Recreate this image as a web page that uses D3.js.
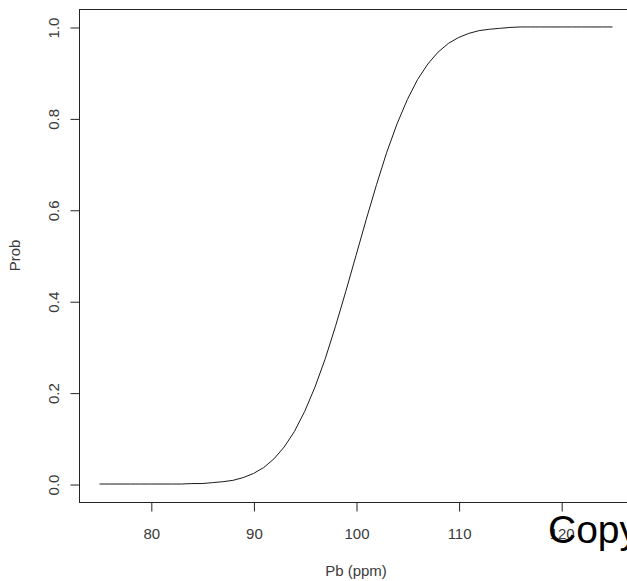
<!DOCTYPE html>
<html>
<head>
<meta charset="utf-8">
<script src="https://cdn.jsdelivr.net/npm/d3@7"></script>
<style>
  html, body { margin: 0; padding: 0; background: #fff; overflow: hidden; }
  svg { display: block; font-family: "Liberation Sans", Arial, sans-serif; }
</style>
</head>
<body>
<svg id="chart" width="627" height="581"></svg>
<script>
// Lead concentration (ppm) and cumulative probability
const pb = [75, 76, 77, 78, 79, 80, 81, 82, 83, 84, 85, 86, 87, 88, 89, 90,
            91, 92, 93, 94, 95, 96, 97, 98, 99, 100, 101, 102, 103, 104, 105,
            106, 107, 108, 109, 110, 111, 112, 113, 114, 115, 116, 117, 118,
            119, 120, 121, 122, 123, 124, 125];
const prob = [0.000, 0.000, 0.000, 0.000, 0.000, 0.000, 0.000, 0.000, 0.000, 0.001, 0.001,
              0.003, 0.005, 0.008, 0.014, 0.023, 0.036, 0.055, 0.081, 0.115, 0.159,
              0.212, 0.274, 0.345, 0.421, 0.500, 0.579, 0.655, 0.726, 0.788, 0.841,
              0.885, 0.919, 0.945, 0.964, 0.977, 0.986, 0.992, 0.995, 0.997, 0.999,
              1.000, 1.000, 1.000, 1.000, 1.000, 1.000, 1.000, 1.000, 1.000, 1.000];
const xTicks = [80, 90, 100, 110, 120];
const yTicks = [0.0, 0.2, 0.4, 0.6, 0.8, 1.0];

const svg = d3.select("#chart");
const plotL = 79, plotR = 633, plotT = 8.7, plotB = 502.3;

// Data range padded by 4% on each side
const x = d3.scaleLinear().domain([73, 127]).range([plotL, plotR]);
const y = d3.scaleLinear().domain([-0.04, 1.04]).range([plotB, plotT]);

const ink = "#222";
const labelInk = "#3a3a3a";
const fs = 15;

// Plot frame
svg.append("rect")
  .attr("x", plotL + 0.5).attr("y", Math.round(plotT) + 0.5)
  .attr("width", plotR - plotL).attr("height", Math.round(plotB) - Math.round(plotT))
  .attr("fill", "none").attr("stroke", ink).attr("stroke-width", 1);

// X axis
const xAxis = svg.append("g")
  .attr("transform", `translate(0.5,${Math.round(plotB) + 0.5})`)
  .call(d3.axisBottom(x).tickValues(xTicks).tickSize(9).tickSizeOuter(0).tickFormat(d3.format("d")));
xAxis.select(".domain").remove();
xAxis.selectAll("line").attr("stroke", ink);
xAxis.selectAll("text")
  .attr("fill", labelInk).attr("font-size", fs)
  .attr("font-family", "Liberation Sans, Arial, sans-serif")
  .attr("y", 0).attr("dy", 36.5);

// Y axis with rotated labels
const yAxis = svg.append("g")
  .attr("transform", `translate(${plotL + 0.5},0.5)`)
  .call(d3.axisLeft(y).tickValues(yTicks).tickSize(9).tickSizeOuter(0).tickFormat(d3.format(".1f")));
yAxis.select(".domain").remove();
yAxis.selectAll("line").attr("stroke", ink);
yAxis.selectAll("text")
  .attr("fill", labelInk).attr("font-size", fs)
  .attr("font-family", "Liberation Sans, Arial, sans-serif")
  .attr("x", 0)
  .attr("text-anchor", "middle")
  .attr("transform", "translate(-26,0) rotate(-90)")
  .attr("dy", "0.35em");

// Axis titles
svg.append("text")
  .attr("x", (plotL + plotR) / 2).attr("y", 576)
  .attr("text-anchor", "middle").attr("font-size", fs).attr("fill", labelInk)
  .text("Pb (ppm)");
svg.append("text")
  .attr("transform", `translate(20,${(plotT + plotB) / 2}) rotate(-90)`)
  .attr("text-anchor", "middle").attr("font-size", fs).attr("fill", labelInk)
  .text("Prob");

// Cumulative probability curve
const line = d3.line().x((d, i) => x(pb[i])).y(d => y(d));
svg.append("path")
  .datum(prob)
  .attr("d", line)
  .attr("fill", "none").attr("stroke", "#1a1a1a").attr("stroke-width", 1);

// Overlaid caption
svg.append("text")
  .attr("x", 548).attr("y", 543)
  .attr("font-size", 39).attr("fill", "#000")
  .text("Copy");
</script>
</body>
</html>
